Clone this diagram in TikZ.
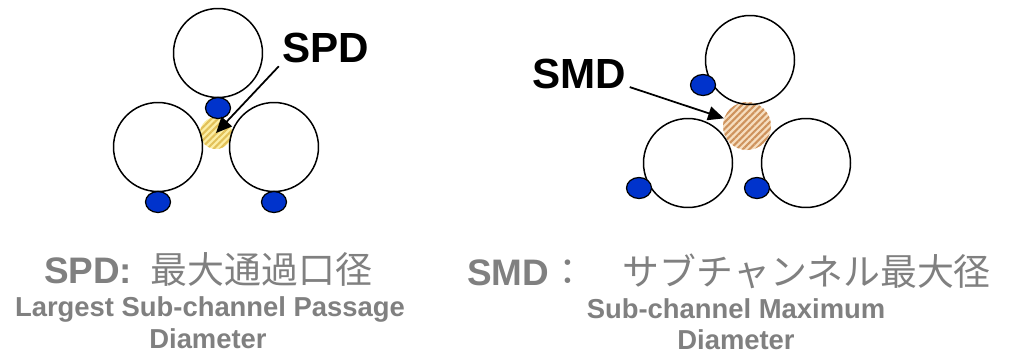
\documentclass[tikz,border=0pt]{standalone}
\usepackage{fontspec}
\setmainfont{Liberation Sans}
\newfontfamily\jpfont{Noto Sans CJK JP}
\definecolor{capgray}{RGB}{128,128,128}
\definecolor{rodblue}{RGB}{0,51,204}
\definecolor{spdlight}{RGB}{252,238,165}
\definecolor{spdstripe}{RGB}{226,192,88}
\definecolor{smdlight}{RGB}{246,222,192}
\definecolor{smdstripe}{RGB}{206,146,92}
\usetikzlibrary{arrows.meta,shapes.geometric,patterns.meta}

\begin{document}
\begin{tikzpicture}[x=0.02cm, y=-0.02cm,
    rod/.style={circle, draw=black, line width=0.85pt, minimum size=1.78cm, inner sep=0pt},
    wire/.style={ellipse, draw=black, line width=0.7pt, fill=rodblue,
                 minimum width=0.5cm, minimum height=0.42cm, inner sep=0pt},
    zone/.style={circle, inner sep=0pt, pattern={Lines[angle=45,distance=2.6pt,line width=1.2pt]}},
    tag/.style={font=\fontsize{24}{28}\selectfont\bfseries, inner sep=2pt, anchor=base},
    pointer/.style={-{Triangle[length=9pt,width=8pt]}, line width=1pt},
    title/.style={font=\fontsize{21}{25}\selectfont, text=capgray, inner sep=0pt, anchor=base},
    caption/.style={font=\fontsize{15.6}{19}\selectfont\bfseries, text=capgray, inner sep=0pt, anchor=base}
  ]
    \useasboundingbox (0,0) rectangle (1010,356);
    % SPD: passage between three rods
    \node[zone, minimum size=0.64cm, preaction={fill=spdlight}, pattern color=spdstripe]
      (spdzone) at (216,133) {};
    \node[rod] (spdtop)   at (218,53)  {};
    \node[rod] (spdleft)  at (158,147) {};
    \node[rod] (spdright) at (274,147) {};
    \node[wire] (spdwtop)   at (218,108) {};
    \node[wire] (spdwleft)  at (158,202) {};
    \node[wire] (spdwright) at (274,202) {};
    \node[tag] (spdlabel) at (326,62) {SPD};
    \draw[pointer] (spdlabel.south west) -- (spdzone.center);
    % SMD: largest circle between three rods
    \node[zone, minimum size=0.96cm, preaction={fill=smdlight}, pattern color=smdstripe]
      (smdzone) at (747,126) {};
    \node[rod] (smdtop)   at (750,60)  {};
    \node[rod] (smdleft)  at (688,163) {};
    \node[rod] (smdright) at (806,163) {};
    \node[wire] (smdwtop)   at (703,85)  {};
    \node[wire] (smdwleft)  at (639,188) {};
    \node[wire] (smdwright) at (757,188) {};
    \node[tag] (smdlabel) at (579,88) {SMD};
    \draw[pointer] (smdlabel.-15) -- (smdzone);
    % Captions
    \node[title] (spdtitle) at (208,283)
      {\textbf{SPD:}\hspace{0.5em}{\jpfont 最大通過口径}};
    \node[caption] (spdline1) at (210,316) {Largest Sub-channel Passage};
    \node[caption] (spdline2) at (208,348) {Diameter};
    \node[title] (smdtitle) at (729,285)
      {\textbf{SMD}{\jpfont ：}\hspace{1em}{\jpfont サブチャンネル最大径}};
    \node[caption] (smdline1) at (736,318) {Sub-channel Maximum};
    \node[caption] (smdline2) at (736,349) {Diameter};
  \end{tikzpicture}
\end{document}
